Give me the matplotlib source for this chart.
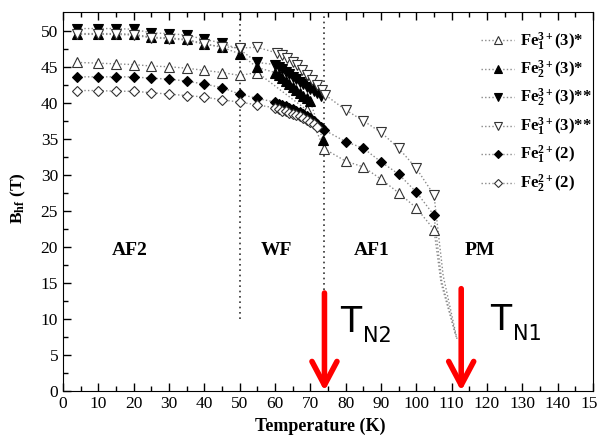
import matplotlib
matplotlib.use("Agg")
import matplotlib.pyplot as plt

plt.rcParams['font.family'] = 'Liberation Serif'
plt.rcParams['mathtext.fontset'] = 'custom'
plt.rcParams['mathtext.rm'] = 'Liberation Serif:bold'
plt.rcParams['mathtext.it'] = 'Liberation Serif:bold'
plt.rcParams['mathtext.bf'] = 'Liberation Serif:bold'

# ---- data ----
T_af2 = [4, 10, 15, 20, 25, 30, 35, 40, 45, 50]

# Fe1 3+ (3)*  open triangle up
T_fe1_3a = T_af2 + [55, 69, 74, 80, 85, 90, 95, 100, 105]
B_fe1_3a = [45.6, 45.5, 45.4, 45.3, 45.1, 45.0, 44.8, 44.5, 44.2, 43.8,
            44.2, 39.0, 33.6, 31.9, 31.1, 29.4, 27.5, 25.4, 22.4]
tail_T_fe1_3a = [107.0, 111.0]
tail_B_fe1_3a = [15.0, 8.0]

# Fe2 3+ (3)*  filled triangle up
T_fe2_3a = T_af2 + [55, 60, 61, 62, 63, 64, 65, 66, 67, 68, 69, 70, 73.5]
B_fe2_3a = [49.6, 49.6, 49.6, 49.5, 49.1, 49.0, 48.8, 48.2, 47.7, 46.8,
            44.9, 44.2, 43.8, 43.4, 43.0, 42.6, 42.2, 41.8, 41.4, 41.0, 40.6, 40.2, 34.9]

# Fe2 3+ (3)**  filled triangle down
T_fe2_3b = T_af2 + [55, 60, 61, 62, 63, 64, 65, 66, 67, 68, 69, 70, 71, 72, 73]
B_fe2_3b = [50.3, 50.3, 50.3, 50.2, 49.7, 49.6, 49.4, 48.8, 48.3, 47.4,
            45.6, 45.3, 45.0, 44.7, 44.3, 44.0, 43.6, 43.3, 42.9, 42.6, 42.2, 41.9, 41.6, 41.3, 41.0]

# Fe1 3+ (3)**  open triangle down
T_fe1_3b = T_af2 + [55, 60.6, 62, 63.5, 65, 66.3, 67.7, 69, 70.5, 72, 73.4, 74.2,
                    80, 85, 90, 95, 100, 105]
B_fe1_3b = [49.5, 49.5, 49.5, 49.4, 49.0, 48.9, 48.7, 48.1, 47.8, 47.6,
            47.7, 46.9, 46.7, 46.2, 45.7, 45.3, 44.6, 43.9, 43.2, 42.5, 41.8, 41.1,
            39.0, 37.5, 35.9, 33.7, 30.9, 27.2]
tail_T_fe1_3b = [107.6, 111.6]
tail_B_fe1_3b = [16.0, 7.0]

# Fe1 2+ (2)  filled diamond
T_fe1_2 = T_af2 + [55, 60, 61, 62, 63, 64, 65, 66, 67, 68, 69, 70, 71, 72, 73, 74,
                   80, 85, 90, 95, 100, 105]
B_fe1_2 = [43.6, 43.6, 43.6, 43.6, 43.4, 43.3, 43.0, 42.6, 42.1, 41.2,
           40.6, 40.1, 39.9, 39.7, 39.5, 39.3, 39.1, 38.9, 38.7, 38.5, 38.2, 37.9, 37.5, 37.1, 36.7, 36.2,
           34.6, 33.7, 31.8, 30.1, 27.6, 24.4]
tail_T_fe1_2 = [107.2, 111.3]
tail_B_fe1_2 = [15.2, 7.5]

# Fe2 2+ (2)  open diamond
T_fe2_2 = T_af2 + [55, 60, 61, 62, 63, 64, 65, 66, 67, 68, 69, 70, 71, 72]
B_fe2_2 = [41.7, 41.7, 41.6, 41.6, 41.4, 41.2, 41.0, 40.8, 40.4, 40.1,
           39.7, 39.3, 39.1, 38.9, 38.8, 38.6, 38.5, 38.3, 38.1, 37.9, 37.6, 37.3, 37.0, 36.7]

labels = [r'Fe$_1^{3+}$(3)*', r'Fe$_2^{3+}$(3)*', r'Fe$_2^{3+}$(3)**',
          r'Fe$_1^{3+}$(3)**', r'Fe$_1^{2+}$(2)', r'Fe$_2^{2+}$(2)']

regions = ['AF2', 'WF', 'AF1', 'PM']
region_T = [19, 60.5, 87.5, 118]
region_B = 19.5

T_N2 = 74
T_N1 = 112.7

# ---- figure ----
fig = plt.figure(figsize=(5.97, 4.41), dpi=100)
ax = fig.add_axes([0.1055, 0.1134, 0.8878, 0.8594])

line_kw = dict(color='#8a8a8a', lw=1.0, linestyle=(0, (1, 1.6)))
ec = '#333333'

series = [
    (T_fe1_3a, B_fe1_3a, '^', 'white', 7, (tail_T_fe1_3a, tail_B_fe1_3a)),
    (T_fe2_3a, B_fe2_3a, '^', 'black', 7, None),
    (T_fe2_3b, B_fe2_3b, 'v', 'black', 7, None),
    (T_fe1_3b, B_fe1_3b, 'v', 'white', 7, (tail_T_fe1_3b, tail_B_fe1_3b)),
    (T_fe1_2, B_fe1_2, 'D', 'black', 5.5, (tail_T_fe1_2, tail_B_fe1_2)),
    (T_fe2_2, B_fe2_2, 'D', 'white', 5.5, None),
]

handles = []
for (t, b, m, fc, size, tail), lab in zip(series, labels):
    if tail is not None:
        ax.plot([t[-1]] + tail[0], [b[-1]] + tail[1], zorder=1, **line_kw)
    ax.plot(t, b, zorder=1, **line_kw)
    ax.plot(t, b, linestyle='none', marker=m, ms=size, mfc=fc,
            mec=ec if fc == 'white' else 'black', mew=0.8, zorder=3)
    h, = ax.plot([], [], marker=m, ms=size - 1, mfc=fc,
                 mec=ec if fc == 'white' else 'black', mew=0.8, label=lab, **line_kw)
    handles.append(h)

# phase boundaries
ax.plot([50, 50], [10, 53], color='#333333', lw=1.2, linestyle=(0, (1, 2.2)), zorder=0)
ax.plot([74, 74], [14, 53], color='#333333', lw=1.2, linestyle=(0, (1, 2.2)), zorder=0)

for name, tx in zip(regions, region_T):
    ax.text(tx, region_B, name, ha='center', va='center', fontsize=14, fontweight='bold')

# red arrows marking the Neel temperatures
for tn, top in [(T_N2, 13.6), (T_N1, 14.2)]:
    ax.annotate('', xy=(tn, 0), xytext=(tn, top),
                arrowprops=dict(arrowstyle='->,head_length=0.85,head_width=0.45',
                                color='red', lw=4, mutation_scale=20,
                                shrinkA=0, shrinkB=0), zorder=5)

ax.text(78.5, 8.2, 'T', fontsize=25, family='DejaVu Sans')
ax.text(84.8, 6.8, 'N2', fontsize=15, family='DejaVu Sans')
ax.text(121.0, 8.5, 'T', fontsize=25, family='DejaVu Sans')
ax.text(127.3, 7.1, 'N1', fontsize=15, family='DejaVu Sans')

ax.set_xlim(0, 150)
ax.set_ylim(0, 52.6)
ax.set_xticks(range(0, 151, 10))
ax.set_xticks(range(5, 150, 10), minor=True)
ax.set_yticks(range(0, 51, 5))
ax.set_yticks([2.5 + 5 * i for i in range(10)], minor=True)
ax.tick_params(which='both', direction='in', top=True, right=False, labelsize=12.5)
ax.tick_params(which='major', length=6, width=1)
ax.tick_params(which='minor', length=3.5, width=1)

ax.set_xlabel('Temperature (K)', fontsize=13, fontweight='bold')
ax.xaxis.set_label_coords(0.485, -0.07)
ax.set_ylabel(r'B$_{\rm hf}$ (T)', fontsize=12.5, fontweight='bold')
ax.yaxis.set_label_coords(-0.066, 0.51)

ax.legend(handles=handles, loc='upper right', bbox_to_anchor=(1.02, 0.982),
          frameon=False, prop={'weight': 'bold', 'size': 12},
          handlelength=2.0, handletextpad=0.35, labelspacing=0.38, borderaxespad=0.3)

fig.savefig('out.png', dpi=100)
